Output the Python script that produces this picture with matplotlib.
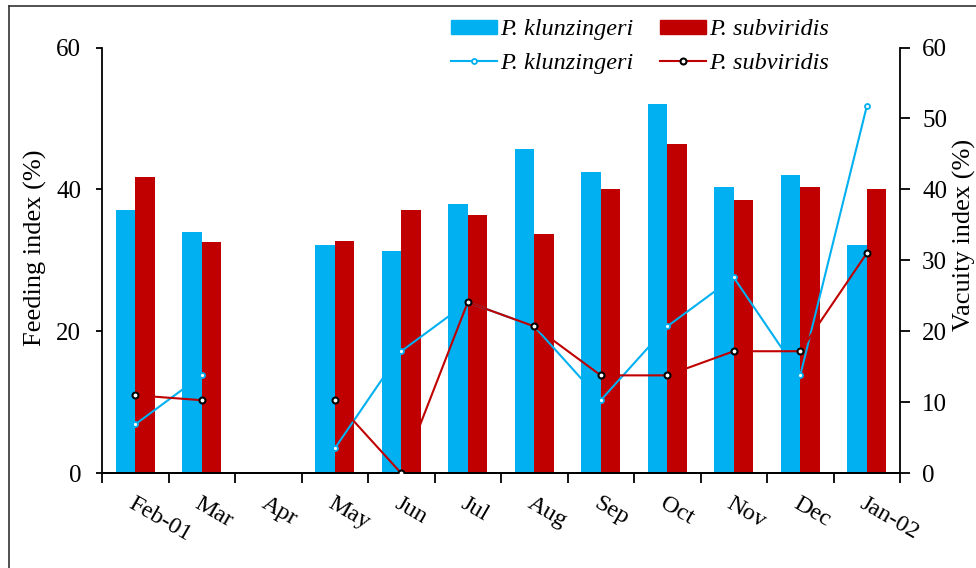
import numpy as np
import matplotlib
matplotlib.use("Agg")
import matplotlib.pyplot as plt
from matplotlib.lines import Line2D
from matplotlib.patches import Patch

months = ["Feb-01", "Mar", "Apr", "May", "Jun", "Jul", "Aug", "Sep", "Oct", "Nov", "Dec", "Jan-02"]

# Feeding index (%) - bars, left axis
feed_klunzingeri = [37.1, 34.0, np.nan, 32.1, 31.3, 38.0, 45.7, 42.4, 52.1, 40.4, 42.0, 32.1]
feed_subviridis = [41.7, 32.6, np.nan, 32.8, 37.1, 36.4, 33.7, 40.0, 46.4, 38.5, 40.4, 40.0]

# Vacuity index (%) - lines, right axis
vac_klunzingeri = [6.9, 13.8, np.nan, 3.5, 17.2, 24.1, 20.7, 10.3, 20.7, 27.6, 13.8, 51.7]
vac_subviridis = [11.0, 10.3, np.nan, 10.3, 0.0, 24.1, 20.7, 13.8, 13.8, 17.2, 17.2, 31.0]

species = ["P. klunzingeri", "P. subviridis"]

BLUE = "#00B0F0"
RED = "#C00000"

plt.rcParams["font.family"] = ["Liberation Serif", "DejaVu Serif"]
plt.rcParams["font.size"] = 18

fig = plt.figure(figsize=(9.76, 5.68), dpi=100)
W, H = 976, 568
ax = fig.add_axes([102 / W, 1 - 473.3 / H, (900 - 102) / W, (473.3 - 47.5) / H])
ax2 = ax.twinx()

x = np.arange(len(months))
bw = 0.295
ax.bar(x - bw / 2, feed_klunzingeri, width=bw, color=BLUE, zorder=2)
ax.bar(x + bw / 2, feed_subviridis, width=bw, color=RED, zorder=2)

ax2.plot(x, vac_klunzingeri, color=BLUE, lw=1.5, marker="o", ms=3.6,
         mfc="white", mec=BLUE, mew=1.3, zorder=3)
ax2.plot(x, vac_subviridis, color=RED, lw=1.5, marker="o", ms=4.3,
         mfc="white", mec="black", mew=1.5, zorder=4)

for a in (ax, ax2):
    a.set_ylim(0, 60)
    a.set_xlim(-0.5, len(months) - 0.5)
    a.spines["top"].set_visible(False)
    for s in ("left", "right", "bottom"):
        a.spines[s].set_linewidth(1.3)

ax.set_yticks([0, 20, 40, 60])
ax2.set_yticks([0, 10, 20, 30, 40, 50, 60])
ax.tick_params(axis="y", direction="out", length=4, width=1.3, pad=11, labelsize=18)
ax2.tick_params(axis="y", direction="out", length=7, width=1.3, pad=9, labelsize=18)
ax.spines["right"].set_visible(False)
ax2.spines["left"].set_visible(False)

# category boundaries carry the tick marks, labels sit at category centres
ax.set_xticks(np.arange(-0.5, len(months)), labels=[""] * (len(months) + 1))
ax.tick_params(axis="x", which="major", direction="out", length=7, width=1.3)
ax.set_xticks(x, labels=months, minor=True)
ax.tick_params(axis="x", which="minor", length=0, pad=14, labelsize=17.5)
for lab in ax.get_xticklabels(minor=True):
    lab.set_rotation(-30)
    lab.set_ha("left")
    lab.set_va("top")
    lab.set_rotation_mode("anchor")

fig.text(35 / W, 1 - 248 / H, "Feeding index (%)", rotation=90,
         ha="center", va="center", fontsize=19)
fig.text(964 / W, 1 - 235 / H, "Vacuity index (%)", rotation=90,
         ha="center", va="center", fontsize=19)

handles = [
    Patch(color=BLUE, label=species[0]),
    Patch(color=RED, label=species[1]),
    Line2D([], [], color=BLUE, lw=1.5, marker="o", ms=3.6, mfc="white",
           mec=BLUE, mew=1.3, label=species[0]),
    Line2D([], [], color=RED, lw=1.5, marker="o", ms=4.3, mfc="white",
           mec="black", mew=1.5, label=species[1]),
]
# order so that bars form the first row and lines the second
fig.legend(handles=[handles[0], handles[2], handles[1], handles[3]],
           ncol=2, loc="center", bbox_to_anchor=(640 / W, 1 - 46.5 / H),
           bbox_transform=fig.transFigure, frameon=False,
           prop={"style": "italic", "size": 17.5}, handlelength=1.9,
           handleheight=0.55, handletextpad=0.12, columnspacing=1.1,
           labelspacing=0.5)

# outer frame (left and top edges)
fig.add_artist(Line2D([9 / W, 9 / W], [0, 1 - 6 / H], transform=fig.transFigure,
                      color="#333333", lw=1.2))
fig.add_artist(Line2D([9 / W, 1], [1 - 6 / H, 1 - 6 / H], transform=fig.transFigure,
                      color="#333333", lw=1.2))

fig.savefig("out.png", dpi=100)
